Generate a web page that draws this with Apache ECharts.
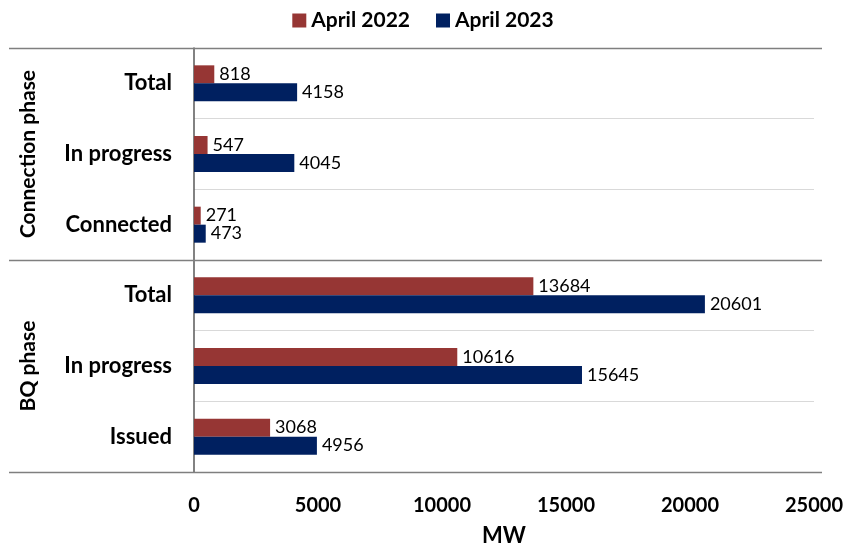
<!DOCTYPE html>
<html>
<head>
<meta charset="utf-8">
<script src="https://cdn.jsdelivr.net/npm/echarts@6/dist/echarts.min.js"></script>
<style>
  html, body { margin: 0; padding: 0; background: #fff; }
  #myChart { width: 846px; height: 549px; }
</style>
</head>
<body>
<div id="myChart"></div>
<script>
// Chart data
var categories = ['Total', 'In progress', 'Connected', 'Total', 'In progress', 'Issued'];
var groups = ['Connection phase', 'BQ phase'];
var groupSize = [3, 3];
var april2022 = [818, 547, 271, 13684, 10616, 3068];
var april2023 = [4158, 4045, 473, 20601, 15645, 4956];
var seriesNames = ['April 2022', 'April 2023'];
var xTicks = [0, 5000, 10000, 15000, 20000, 25000];
var xAxisTitle = 'MW';

var FONT = 'Lato, "Open Sans", sans-serif';

var myChart = echarts.init(document.getElementById('myChart'));

var option = {
  animation: false,
  textStyle: { fontFamily: FONT },
  legend: {
    top: 5,
    left: 'center',
    itemWidth: 14,
    itemHeight: 14,
    itemGap: 26,
    icon: 'rect',
    textStyle: { fontFamily: FONT, fontSize: 21, fontWeight: 'bold', color: '#000' },
    data: seriesNames
  },
  grid: { left: 194, right: 32, top: 48, bottom: 77 },
  xAxis: {
    type: 'value',
    min: xTicks[0],
    max: xTicks[xTicks.length - 1],
    interval: xTicks[1] - xTicks[0],
    axisLine: { show: false },
    axisTick: { show: false },
    splitLine: { show: false },
    axisLabel: {
      margin: 24,
      fontFamily: FONT,
      fontSize: 20,
      fontWeight: 'bold',
      color: '#000',
      formatter: function (v) { return String(v); }
    }
  },
  yAxis: {
    type: 'category',
    inverse: true,
    data: categories,
    axisLine: { show: true, lineStyle: { color: '#595959', width: 1.5 } },
    axisTick: { show: false },
    splitLine: { show: true, lineStyle: { color: '#d9d9d9', width: 1 } },
    axisLabel: { margin: 22, fontFamily: FONT, fontSize: 22, fontWeight: 'bold', color: '#000' }
  },
  series: [
    {
      name: seriesNames[0],
      type: 'bar',
      data: april2022,
      barWidth: 18,
      barGap: '0%',
      itemStyle: { color: '#963634' },
      label: { show: true, position: 'right', distance: 5, fontFamily: FONT, fontSize: 18, color: '#000' }
    },
    {
      name: seriesNames[1],
      type: 'bar',
      data: april2023,
      barWidth: 18,
      barGap: '0%',
      itemStyle: { color: '#002060' },
      label: { show: true, position: 'right', distance: 5, fontFamily: FONT, fontSize: 18, color: '#000' }
    }
  ]
};

myChart.setOption(option);

// Table-style frame lines, rotated group labels and axis title, positioned from the axes
function drawFrame() {
  var graphics = [];
  var lineColor = '#7f7f7f';
  var leftX = myChart.convertToPixel({ xAxisIndex: 0 }, xTicks[0]);
  var rightX = myChart.convertToPixel({ xAxisIndex: 0 }, xTicks[xTicks.length - 1]);
  var start = 0;
  var boundaries = [];
  var top = myChart.convertToPixel({ yAxisIndex: 0 }, 0);
  var step = myChart.convertToPixel({ yAxisIndex: 0 }, 1) - top;
  boundaries.push(top - step / 2);
  groupSize.forEach(function (size, g) {
    var midIdx = start + (size - 1) / 2;
    var midY = top + step * midIdx;
    graphics.push({
      type: 'text',
      x: 28,
      y: midY,
      rotation: Math.PI / 2,
      style: {
        text: groups[g],
        fontFamily: FONT,
        fontSize: 21,
        fontWeight: 'bold',
        fill: '#000',
        align: 'center',
        verticalAlign: 'middle'
      }
    });
    start += size;
    boundaries.push(top + step * (start - 1) + step / 2);
  });
  boundaries.forEach(function (y) {
    graphics.push({
      type: 'line',
      shape: { x1: 9, y1: Math.round(y) + 0.5, x2: rightX + 8, y2: Math.round(y) + 0.5 },
      style: { stroke: lineColor, lineWidth: 1.5 },
      z: 10
    });
  });
  // axis title under the tick labels
  var bottomY = boundaries[boundaries.length - 1];
  graphics.push({
    type: 'text',
    x: (leftX + rightX) / 2,
    y: bottomY + 64,
    style: {
      text: xAxisTitle,
      fontFamily: FONT,
      fontSize: 22,
      fontWeight: 'bold',
      fill: '#000',
      align: 'center',
      verticalAlign: 'middle'
    }
  });
  myChart.setOption({ graphic: graphics });
}

drawFrame();
</script>
</body>
</html>
